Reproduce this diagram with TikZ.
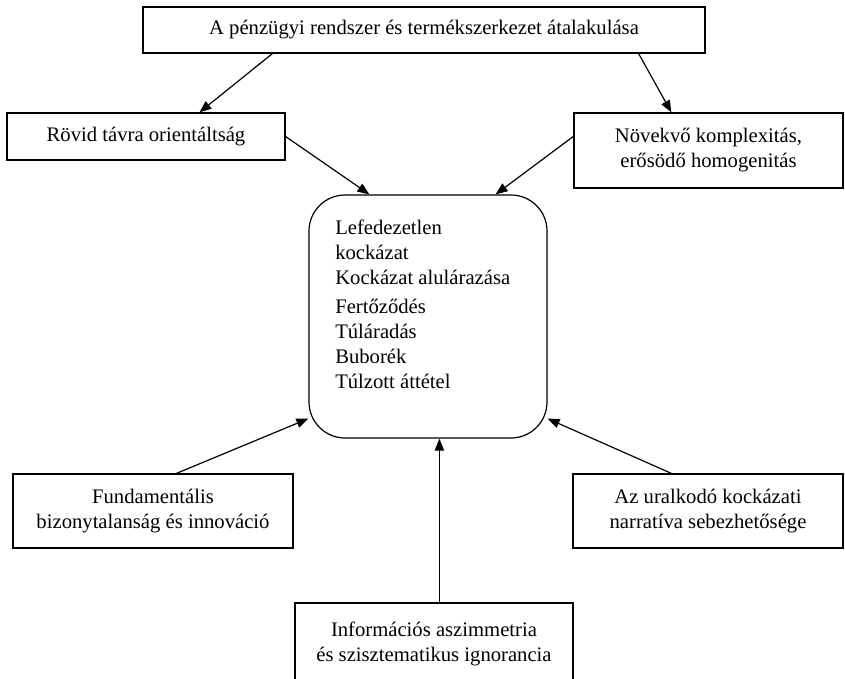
\documentclass[tikz,border=0pt]{standalone}
\usepackage{fontspec}
\setmainfont{Liberation Serif}
\usetikzlibrary{arrows.meta,calc}
\begin{document}
\begin{tikzpicture}[x=0.75pt,y=-0.75pt,
  box/.style={draw,line width=0.9pt,inner sep=0pt,align=center,
    font=\fontsize{15.5}{18.75}\selectfont},
  arr/.style={line width=0.9pt,-{Triangle[length=9pt,width=7pt]}}]
\clip (0,0) rectangle (845,678);
\node[box,minimum width=421.5pt,minimum height=34.5pt] (top) at (424,30)
  {A pénzügyi rendszer és termékszerkezet átalakulása};
\node[box,minimum width=208.5pt,minimum height=35.25pt] (rovid) at (146,136.5)
  {Rövid távra orientáltság};
\node[box,minimum width=201.75pt,minimum height=56.25pt] (novekvo) at (708.5,150.5)
  {Növekvő komplexitás,\\ erősödő homogenitás};
\node[draw,line width=0.9pt,rounded corners=27pt,minimum width=178.5pt,
  minimum height=182.25pt] (central) at (428,316.5) {};
\node[anchor=north west,inner sep=0pt,align=left,
  font=\fontsize{15.5}{18.75}\selectfont] (risks) at (335,220)
  {Lefedezetlen\\ kockázat\\ Kockázat alulárazása\\[3pt] Fertőződés\\ Túláradás\\ Buborék\\ Túlzott áttétel};
\node[box,minimum width=210pt,minimum height=55.5pt] (fund) at (153,511)
  {Fundamentális\\ bizonytalanság és innováció};
\node[box,minimum width=202.5pt,minimum height=55.5pt] (az) at (708,511)
  {Az uralkodó kockázati\\ narratíva sebezhetősége};
\node[box,minimum width=208.5pt,minimum height=60.75pt] (info) at (434,643.5)
  {Információs aszimmetria\\ és szisztematikus ignorancia};
\draw[arr] ($(top.south west)+(130,0)$) -- ($(rovid.north west)+(193,0)$);
\draw[arr] ($(top.south east)+(-67,0)$) -- ($(novekvo.north west)+(98,0)$);
\draw[arr] (rovid.east) -- ($(central.north west)+(61,0)$);
\draw[arr] ($(novekvo.north west)+(0,24)$) -- ($(central.north east)+(-52,0)$);
\draw[arr] ($(fund.north west)+(164,0)$) -- ($(central.south west)+(0,-20)$);
\draw[arr] ($(az.north west)+(99,0)$) -- ($(central.south east)+(0,-20)$);
\draw[arr] ($(info.north west)+(145,0)$) -- ($(central.south west)+(131,0)$);
\end{tikzpicture}
\end{document}
